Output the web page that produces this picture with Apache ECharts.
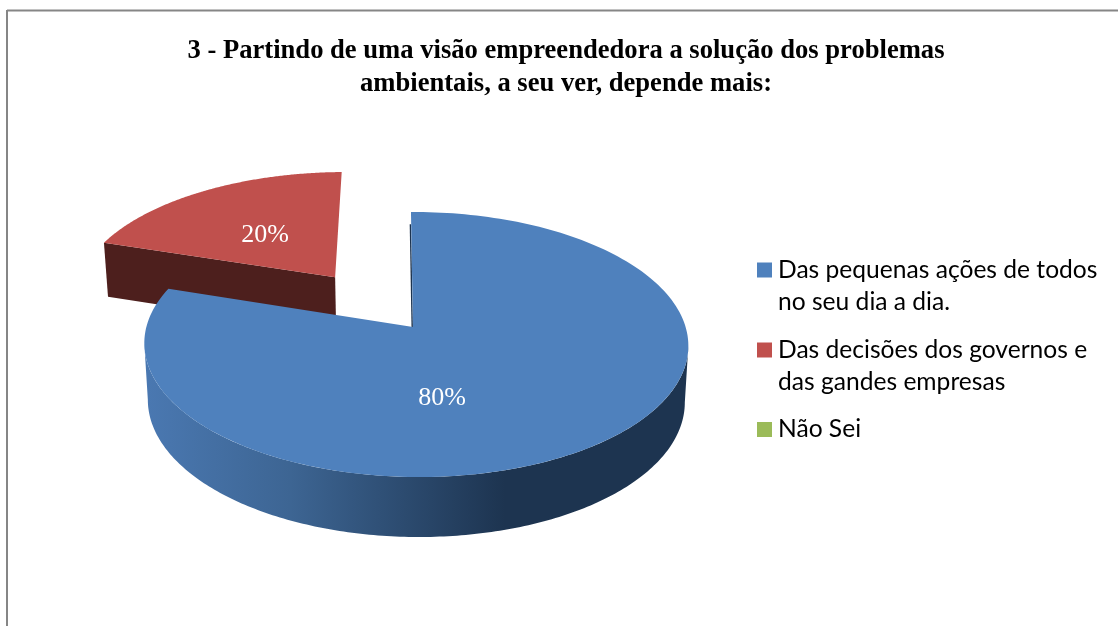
<!DOCTYPE html>
<html><head><meta charset="utf-8">
<style>html,body{margin:0;padding:0;background:#fff}#c{width:1118px;height:626px}</style>
<script src="https://cdn.jsdelivr.net/npm/echarts@6/dist/echarts.min.js"></script>
</head><body><div id="c"></div>
<script>
const titleLines = ['3 - Partindo de uma visão empreendedora a solução dos problemas', 'ambientais, a seu ver, depende mais:'];
const categories = ['Das pequenas ações de todos\nno seu dia a dia.', 'Das decisões dos governos e\ndas gandes empresas', 'Não Sei'];
const values = [80, 20, 0];
const topColors = ['#4f81bd', '#c0504d', '#9bbb59'];
const labelPos = [[442, 398], [265, 235]];
const explode = [0, 0.5, 0];
const sliceScale = [1, 1.012, 1];
const sliceShift = [0, -2, 0];

// 3D-pie projection
const ox = 413, oy = 327, A = 269.6, B = 130.2, K = 0.132, Ku = -0.011, G = 2.3;
function proj(u, w, dx) {
  const d = 1 + K * w + Ku * u;
  return [ox + dx + (A * u - G * w) / d, oy - B * w / d];
}
function low(p) {
  return [416 + (p[0] - 416) * 0.987, p[1] + 54 + (p[1] - 241) * 0.0254];
}
const total = values.reduce((a, b) => a + b, 0);
function sliceGeom(idx, val) {
  let before = 0;
  for (let i = 0; i < idx; i++) before += values[i];
  const a0 = before / total * 2 * Math.PI, a1 = (before + val) / total * 2 * Math.PI;
  const mid = (a0 + a1) / 2, e = explode[idx], s = sliceScale[idx];
  const cu = e * Math.sin(mid), cw = e * Math.cos(mid);
  const at = (t, r) => proj(cu + s * r * Math.sin(t), cw + s * r * Math.cos(t), sliceShift[idx]);
  const arc = (p, f) => { const pts = []; const n = 200; for (let i = 0; i <= n; i++) pts.push(at(p + (f - p) * i / n, 1)); return pts; };
  return { a0, a1, at, arc };
}
const poly = (points, style) => ({ type: 'polygon', shape: { points }, style });

function render(idx) {
  return function (params, api) {
    const val = api.value(0);
    if (!val) return { type: 'group', children: [] };
    const g = sliceGeom(idx, val);
    const kids = [];
    const apex = g.at(0, 0);
    if (idx === 0) {
      // outer wall between the two horizontal extremes of the rim
      let tR = 0, tL = 0, xR = -Infinity, xL = Infinity;
      for (let t = 0; t < 2 * Math.PI; t += 0.002) {
        const p = g.at(t, 1);
        if (p[0] > xR) { xR = p[0]; tR = t; }
        if (p[0] < xL) { xL = p[0]; tL = t; }
      }
      const wall = g.arc(tR, tL);
      const lowPts = wall.map(low).reverse();
      kids.push(poly(wall.concat(lowPts), {
        fill: { type: 'linear', x: 147, y: 0, x2: 505, y2: 0, global: true,
          colorStops: [{ offset: 0, color: '#4a78b1' }, { offset: 0.4, color: '#3d6593' }, { offset: 1, color: '#1d3450' }] }
      }));
      const t = g.at(g.a0, 0.88);
      kids.push({ type: 'line', shape: { x1: apex[0] - 0.8, y1: apex[1], x2: t[0] - 0.8, y2: t[1] }, style: { stroke: '#1d3450', lineWidth: 1.4 } });
    } else {
      const e0 = g.at(g.a0, 1);
      kids.push(poly([apex, e0, low(e0), low(apex)], { fill: '#4d1f1d' }));
    }
    kids.push(poly([apex].concat(g.arc(g.a0, g.a1)), { fill: topColors[idx] }));
    kids.push({ type: 'text', style: { x: labelPos[idx][0], y: labelPos[idx][1], text: Math.round(val / total * 100) + '%', fill: '#fff',
      font: '26px "Liberation Serif"', align: 'center', verticalAlign: 'middle' } });
    return { type: 'group', children: kids };
  };
}

const zOrder = [3, 2, 1];
const series = categories.map((name, i) => ({
  type: 'custom', name, coordinateSystem: 'none', silent: true, animation: false,
  z: zOrder[i], clip: false, itemStyle: { color: topColors[i] },
  data: [[values[i]]], renderItem: render(i)
}));

const legendTop = [222, 302, 413.5];
const legend = categories.map((name, i) => ({
  data: [name], left: 757, top: legendTop[i], orient: 'vertical', padding: 0,
  selectedMode: false, itemWidth: 17, itemHeight: 15, itemGap: 0, icon: 'path://M0,0H15V15H0Z', symbolKeepAspect: true,
  formatter: n => n.indexOf('\n') >= 0 ? '\n' + n : n,
  textStyle: { fontFamily: 'Lato', fontSize: 24.6, color: '#000', lineHeight: 32 }
}));

const chart = echarts.init(document.getElementById('c'), null, { renderer: 'canvas' });
chart.setOption({
  animation: false,
  backgroundColor: '#fff',
  title: [0, 1].map(i => ({
    text: titleLines[i], left: 566, top: 36.5 + i * 33, textAlign: 'center', padding: 0,
    textStyle: { fontFamily: 'Liberation Serif', fontWeight: 'bold', fontSize: 26.6, color: '#000', lineHeight: 30 }
  })),
  legend,
  series,
  graphic: [
    { type: 'line', shape: { x1: 7, y1: 10.5, x2: 1118, y2: 10.5 }, style: { stroke: '#868686', lineWidth: 2 } },
    { type: 'line', shape: { x1: 7, y1: 10, x2: 7, y2: 626 }, style: { stroke: '#868686', lineWidth: 2 } }
  ]
});
</script></body></html>
